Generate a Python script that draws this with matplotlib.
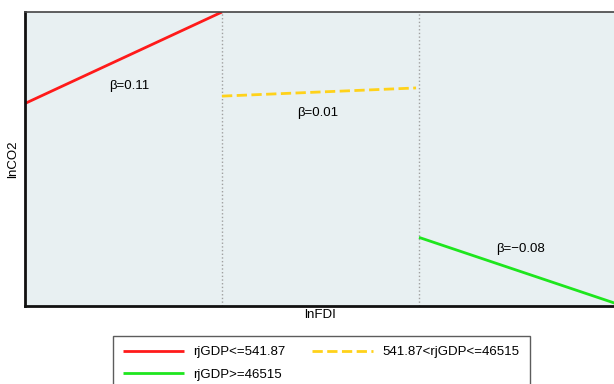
import matplotlib.pyplot as plt

plt.rcParams["font.family"] = ["Liberation Sans", "DejaVu Sans"]

# threshold regimes: x-span, start/end of fitted lnCO2 line, slope label
segments = ["rjGDP<=541.87", "541.87<rjGDP<=46515", "rjGDP>=46515"]
x_start = [0.0, 1.0, 2.0]
x_end = [1.0, 1.985, 3.0]
y_start = [0.248, 0.257, 0.084]
y_end = [0.360, 0.267, 0.003]
betas = ["β=0.11", "β=0.01", "β=−0.08"]
label_x = [0.528, 1.487, 2.513]
label_y = [0.269, 0.236, 0.070]
boundaries = [1.0, 2.0]

colors = ["#ff1a1a", "#ffd21a", "#1ee61e"]
styles = ["-", "--", "-"]

fig = plt.figure(figsize=(6.14, 3.84), dpi=100)
ax = fig.add_axes([25 / 614, 1 - 306 / 384, 591 / 614, (306 - 12) / 384])
ax.set_facecolor("#e8f0f2")

for x in boundaries:
    ax.axvline(x, color="#a0a0a0", linestyle=":", linewidth=1.0)

handles = []
for i, name in enumerate(segments):
    (line,) = ax.plot([x_start[i], x_end[i]], [y_start[i], y_end[i]],
                      color=colors[i], linestyle=styles[i], linewidth=2.0,
                      label=name, solid_capstyle="butt")
    handles.append(line)
    ax.text(label_x[i], label_y[i], betas[i], ha="center", va="center", fontsize=9.5)

ax.set_xlim(0, 3)
ax.set_ylim(0, 0.36)
ax.set_xticks([])
ax.set_yticks([])
ax.spines["right"].set_visible(False)
ax.spines["top"].set_color("#444444")
ax.spines["top"].set_linewidth(1.2)
for side in ("left", "bottom"):
    ax.spines[side].set_color("#111111")
    ax.spines[side].set_linewidth(2.0)

ax.set_xlabel("lnFDI", fontsize=9.5, labelpad=2)
ax.set_ylabel("lnCO2", fontsize=9.5, labelpad=4)

# legend fills column-wise, so order entries to read red, yellow / green by row
order = [0, 2, 1]
fig.legend(handles=[handles[i] for i in order],
           labels=[segments[i] for i in order],
           loc="upper left", bbox_to_anchor=(113 / 614, 1 - 336 / 384),
           ncol=2, fontsize=9.5, frameon=True, fancybox=False,
           edgecolor="#333333", handlelength=4.6, handletextpad=0.75,
           columnspacing=2.0, borderpad=0.75, borderaxespad=0,
           labelspacing=0.78)

fig.savefig("out.png", dpi=100)
